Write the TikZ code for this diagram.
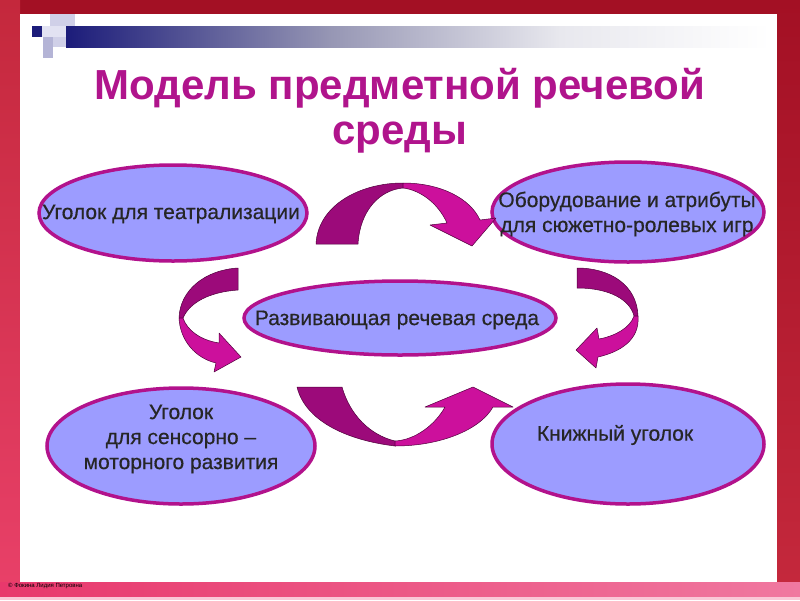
\documentclass[tikz,border=0pt]{standalone}
\usepackage{fontspec}
\setmainfont{Liberation Sans}
\newfontfamily\lblfont[FakeBold=0.5]{Liberation Sans}
\usetikzlibrary{shapes.geometric}
\definecolor{bgred}{RGB}{163,16,36}
\definecolor{bgredL}{RGB}{196,40,60}
\definecolor{bgpinkB}{RGB}{232,64,104}
\definecolor{bandA}{RGB}{232,56,108}
\definecolor{bandB}{RGB}{240,120,160}
\definecolor{bandC}{RGB}{250,200,215}
\definecolor{navy}{RGB}{28,28,122}
\definecolor{barmid}{RGB}{150,150,180}
\definecolor{barlight}{RGB}{232,232,238}
\definecolor{lav0}{RGB}{226,226,242}
\definecolor{lav1}{RGB}{208,208,232}
\definecolor{lav2}{RGB}{180,180,214}
\definecolor{titlecol}{RGB}{176,20,140}
\definecolor{ellfill}{RGB}{156,156,255}
\definecolor{ellline}{RGB}{178,18,140}
\definecolor{arrdarkc}{RGB}{156,10,122}
\definecolor{arrbrightc}{RGB}{204,16,156}
\definecolor{arrlinec}{RGB}{80,0,60}
\tikzset{
  ell/.style={ellipse, draw=ellline, fill=ellfill, line width=3.5pt, inner sep=0pt},
  lbl/.style={font=\lblfont\fontsize{21}{25}\selectfont, text=black!85, align=center, inner sep=0pt},
  ttl/.style={font=\fontsize{42}{45}\selectfont\bfseries, text=titlecol, align=center, inner sep=0pt},
  arrdark/.style={fill=arrdarkc, draw=arrlinec, line width=0.5pt, line join=round},
  arrbright/.style={fill=arrbrightc, draw=arrlinec, line width=0.5pt, line join=round}
}
\begin{document}
\begin{tikzpicture}[x=1pt,y=-1pt]
\useasboundingbox (0,0) rectangle (800,600);
% background frame
\fill[bgred] (0,0) rectangle (800,600);
\shade[top color=bgredL, bottom color=bgpinkB] (0,0) rectangle (20,582);
\shade[top color=bgred, bottom color=bgredL] (777,0) rectangle (800,582);
\shade[left color=bandA, right color=bandB] (0,582) rectangle (800,597);
\fill[bandC] (0,597) rectangle (800,600);
\fill[white] (20,14) rectangle (777,582);
% top decoration bar
\shade[left color=navy, right color=barmid] (66,26) rectangle (330,47);
\shade[left color=barmid, right color=barlight] (329.5,26) rectangle (560,47);
\shade[left color=barlight, right color=white] (559.5,26) rectangle (770,47);
\fill[lav1] (50,14) rectangle (75,26);
\fill[lav0] (42,26) rectangle (66,37);
\fill[lav2] (43,37) rectangle (53,47);
\fill[lav1] (53,37) rectangle (66,47);
\fill[lav2] (43,47) rectangle (53,58);
\fill[navy] (32,26) rectangle (42,37);
% title
\node[ttl] (title) at (400,111) {Модель предметной речевой\\среды};
% ellipses
\node[ell, minimum width=268pt, minimum height=96pt] (e1) at (173,213) {};
\node[ell, minimum width=272pt, minimum height=100pt] (e2) at (628,212) {};
\node[ell, minimum width=312pt, minimum height=74pt] (e3) at (400,318) {};
\node[ell, minimum width=268pt, minimum height=116pt] (e4) at (181,446) {};
\node[ell, minimum width=272pt, minimum height=120pt] (e5) at (628,444) {};
\node[lbl] (t1) at (171,214) {Уголок для театрализации};
\node[lbl] (t2) at (627,214) {Оборудование и атрибуты\\для сюжетно-ролевых игр};
\node[lbl] (t3) at (397,320) {Развивающая речевая среда};
\node[lbl] (t4) at (181,439) {Уголок\\для сенсорно –\\моторного развития};
\node[lbl] (t5) at (615,435) {Книжный уголок};
% arrow A (top)
\draw[arrdark] (316,244) .. controls (318,205) and (360,183) .. (403,183)
  -- (403,188) .. controls (380,190) and (360,210) .. (358,244) -- cycle;
\draw[arrbright] (403,183) .. controls (440,183) and (470,198) .. (480,220)
  -- (496,218) -- (472,246) -- (430,225) -- (447,223)
  .. controls (438,203) and (420,190) .. (403,188) -- cycle;
% arrow B (bottom)
\draw[arrdark] (297,387) -- (342,387) .. controls (350,415) and (370,435) .. (395,441)
  -- (395,446) .. controls (345,440) and (305,420) .. (297,387) -- cycle;
\draw[arrbright] (395,446) .. controls (440,446) and (480,430) .. (493,407)
  -- (513,407) -- (473,387) -- (425,407) -- (445,407)
  .. controls (435,425) and (415,440) .. (395,441) -- cycle;
% arrow C (left)
\draw[arrdark] (238,268) -- (238,290) .. controls (210,292) and (190,302) .. (183,318)
  -- (179,318) .. controls (180,290) and (205,270) .. (238,268) -- cycle;
\draw[arrbright] (179,318) .. controls (180,340) and (195,358) .. (216,363)
  -- (214,372) -- (241,357) -- (219,333) -- (219,343)
  .. controls (200,340) and (187,330) .. (183,318) -- cycle;
% arrow D (right)
\draw[arrdark] (577,268) .. controls (610,268) and (637,285) .. (638,316)
  -- (634,316) .. controls (630,300) and (610,288) .. (577,288) -- cycle;
\draw[arrbright] (638,316) .. controls (640,340) and (620,352) .. (598,357)
  -- (596,368) -- (576,350) -- (597,328) -- (599,339)
  .. controls (615,336) and (630,328) .. (634,316) -- cycle;
% footer
\node[font=\fontsize{6}{7}\selectfont, anchor=west, inner sep=0pt] (foot) at (8,586) {© Фокина Лидия Петровна};
\end{tikzpicture}
\end{document}
